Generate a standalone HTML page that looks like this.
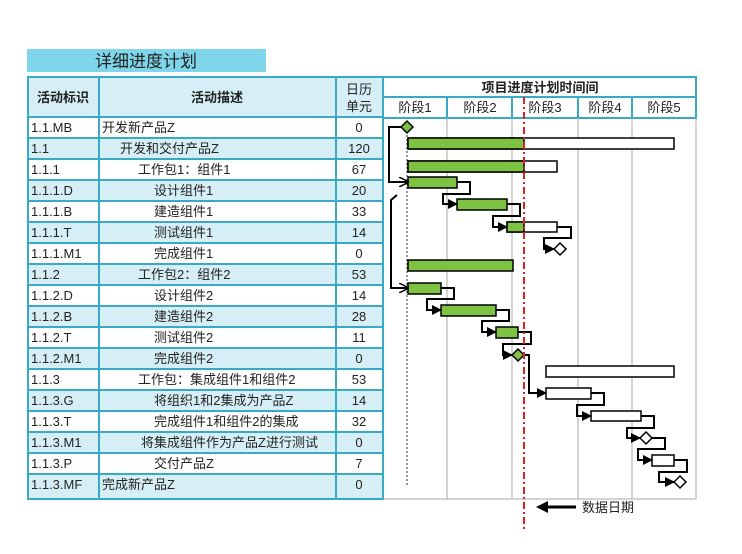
<!DOCTYPE html>
<html><head><meta charset="utf-8"><style>
body{margin:0;background:#fff}
svg text{font-family:"Liberation Sans","Noto Sans CJK SC",sans-serif;fill:#222}
</style></head><body>
<svg width="742" height="549" xmlns="http://www.w3.org/2000/svg">
<defs>
<marker id="a" markerWidth="10" markerHeight="10" refX="9" refY="5" orient="auto" markerUnits="userSpaceOnUse"><path d="M0,0 L10,5 L0,10 z" fill="#000"/></marker>
<marker id="o" markerWidth="10" markerHeight="10" refX="9" refY="5" orient="auto" markerUnits="userSpaceOnUse"><path d="M0,0 L10,5 L0,10" fill="none" stroke="#000" stroke-width="1.5"/></marker>
</defs>
<rect x="27" y="49" width="239" height="23" fill="#7fd6ea"/>
<text x="146" y="67" font-size="17" text-anchor="middle">详细进度计划</text>
<!-- table rows -->
<g>
<rect x="28" y="77" width="355" height="422" fill="#d6eff6"/>
<rect x="28" y="117" width="355" height="21" fill="#fff"/>
<rect x="28" y="159" width="355" height="21" fill="#fff"/>
<rect x="28" y="201" width="355" height="21" fill="#fff"/>
<rect x="28" y="243" width="355" height="21" fill="#fff"/>
<rect x="28" y="285" width="355" height="21" fill="#fff"/>
<rect x="28" y="327" width="355" height="21" fill="#fff"/>
<rect x="28" y="369" width="355" height="21" fill="#fff"/>
<rect x="28" y="411" width="355" height="21" fill="#fff"/>
<rect x="28" y="453" width="355" height="21" fill="#fff"/>
</g>
<g stroke="#3aa9c4" stroke-width="2" fill="none">
<rect x="28" y="77" width="355" height="422"/>
<line x1="99" y1="77" x2="99" y2="499"/><line x1="336" y1="77" x2="336" y2="499"/>
<line x1="28" y1="117" x2="383" y2="117"/><line x1="28" y1="138" x2="383" y2="138"/><line x1="28" y1="159" x2="383" y2="159"/><line x1="28" y1="180" x2="383" y2="180"/><line x1="28" y1="201" x2="383" y2="201"/><line x1="28" y1="222" x2="383" y2="222"/><line x1="28" y1="243" x2="383" y2="243"/><line x1="28" y1="264" x2="383" y2="264"/><line x1="28" y1="285" x2="383" y2="285"/><line x1="28" y1="306" x2="383" y2="306"/><line x1="28" y1="327" x2="383" y2="327"/><line x1="28" y1="348" x2="383" y2="348"/><line x1="28" y1="369" x2="383" y2="369"/><line x1="28" y1="390" x2="383" y2="390"/><line x1="28" y1="411" x2="383" y2="411"/><line x1="28" y1="432" x2="383" y2="432"/><line x1="28" y1="453" x2="383" y2="453"/><line x1="28" y1="474" x2="383" y2="474"/>
</g>
<g font-size="13">
<text x="63" y="102" text-anchor="middle" font-weight="bold">活动标识</text>
<text x="217" y="102" text-anchor="middle" font-weight="bold">活动描述</text>
<text x="359" y="94" text-anchor="middle">日历</text><text x="359" y="111" text-anchor="middle">单元</text>
<text x="31" y="132">1.1.MB</text><text x="31" y="153">1.1</text><text x="31" y="174">1.1.1</text><text x="31" y="195">1.1.1.D</text><text x="31" y="216">1.1.1.B</text><text x="31" y="237">1.1.1.T</text><text x="31" y="258">1.1.1.M1</text><text x="31" y="279">1.1.2</text><text x="31" y="300">1.1.2.D</text><text x="31" y="321">1.1.2.B</text><text x="31" y="342">1.1.2.T</text><text x="31" y="363">1.1.2.M1</text><text x="31" y="384">1.1.3</text><text x="31" y="405">1.1.3.G</text><text x="31" y="426">1.1.3.T</text><text x="31" y="447">1.1.3.M1</text><text x="31" y="468">1.1.3.P</text><text x="31" y="489">1.1.3.MF</text>
<text x="102" y="132">开发新产品Z</text><text x="120" y="153">开发和交付产品Z</text><text x="138" y="174">工作包1：组件1</text><text x="154" y="195">设计组件1</text><text x="154" y="216">建造组件1</text><text x="154" y="237">测试组件1</text><text x="154" y="258">完成组件1</text><text x="138" y="279">工作包2：组件2</text><text x="154" y="300">设计组件2</text><text x="154" y="321">建造组件2</text><text x="154" y="342">测试组件2</text><text x="154" y="363">完成组件2</text><text x="138" y="384">工作包：集成组件1和组件2</text><text x="154" y="405">将组织1和2集成为产品Z</text><text x="154" y="426">完成组件1和组件2的集成</text><text x="141" y="447">将集成组件作为产品Z进行测试</text><text x="154" y="468">交付产品Z</text><text x="102" y="489">完成新产品Z</text>
<g text-anchor="middle"><text x="359" y="132">0</text><text x="359" y="153">120</text><text x="359" y="174">67</text><text x="359" y="195">20</text><text x="359" y="216">33</text><text x="359" y="237">14</text><text x="359" y="258">0</text><text x="359" y="279">53</text><text x="359" y="300">14</text><text x="359" y="321">28</text><text x="359" y="342">11</text><text x="359" y="363">0</text><text x="359" y="384">53</text><text x="359" y="405">14</text><text x="359" y="426">32</text><text x="359" y="447">0</text><text x="359" y="468">7</text><text x="359" y="489">0</text></g>
</g>
<!-- gantt -->
<g stroke="#3aa9c4" stroke-width="2" fill="none">
<rect x="383" y="77" width="313" height="41"/><line x1="383" y1="97" x2="696" y2="97"/>
<line x1="447" y1="97" x2="447" y2="118"/><line x1="512" y1="97" x2="512" y2="118"/><line x1="578" y1="97" x2="578" y2="118"/><line x1="632" y1="97" x2="632" y2="118"/>
</g>
<g stroke="#aaa" stroke-width="1" fill="none">
<line x1="447" y1="118" x2="447" y2="499"/><line x1="512" y1="118" x2="512" y2="499"/><line x1="578" y1="118" x2="578" y2="499"/><line x1="632" y1="118" x2="632" y2="499"/><line x1="696" y1="118" x2="696" y2="499"/>
<line x1="383" y1="499" x2="696" y2="499"/>
</g>
<text x="540" y="92" font-size="13" text-anchor="middle" font-weight="bold">项目进度计划时间间</text>
<g font-size="13" text-anchor="middle" fill="#333"><text x="415" y="112">阶段1</text><text x="480" y="112">阶段2</text><text x="545" y="112">阶段3</text><text x="605" y="112">阶段4</text><text x="664" y="112">阶段5</text></g>
<line x1="407" y1="127" x2="407" y2="487" stroke="#333" stroke-dasharray="2,2"/>
<g stroke="#000" stroke-width="1.5" fill="#fff">
<rect x="408" y="138" width="266" height="11"/><rect x="408" y="138" width="116" height="11" fill="#7dc242"/>
<rect x="408" y="161" width="149" height="11"/><rect x="408" y="161" width="116" height="11" fill="#7dc242"/>
<rect x="408" y="177" width="49" height="11" fill="#7dc242"/>
<rect x="457" y="199" width="50" height="11" fill="#7dc242"/>
<rect x="507" y="222" width="50" height="10"/><rect x="507" y="222" width="17" height="10" fill="#7dc242"/>
<rect x="408" y="260" width="105" height="11" fill="#7dc242"/>
<rect x="408" y="283" width="33" height="11" fill="#7dc242"/>
<rect x="441" y="305" width="55" height="11" fill="#7dc242"/>
<rect x="496" y="327" width="22" height="11" fill="#7dc242"/>
<rect x="546" y="366" width="128" height="11"/>
<rect x="546" y="388" width="45" height="11"/>
<rect x="591" y="411" width="50" height="10"/>
<rect x="652" y="455" width="22" height="11"/>
<path d="M407,121 L413,127 L407,133 L401,127 z" fill="#7dc242"/>
<path d="M560,243 L566,249 L560,255 L554,249 z"/>
<path d="M518,349 L524,355 L518,361 L512,355 z" fill="#7dc242"/>
<path d="M646,432 L652,438 L646,444 L640,438 z"/>
<path d="M680,476 L686,482 L680,488 L674,482 z"/>
</g>
<g stroke="#000" stroke-width="2" fill="none" marker-end="url(#a)">
<polyline points="457,182 470,182 470,194 443,194 443,204 457,204"/>
<polyline points="507,204 520,204 520,216 493,216 493,227 507,227"/>
<polyline points="557,227 571,227 571,238 544,238 544,249 554,249"/>
<polyline points="441,288 454,288 454,299 427,299 427,310 441,310"/>
<polyline points="496,310 509,310 509,321 482,321 482,332 496,332"/>
<polyline points="518,332 531,332 531,344 503,344 503,355 512,355"/>
<polyline points="524,355 529,355 529,393 546,393"/>
<polyline points="591,393 604,393 604,405 577,405 577,416 591,416"/>
<polyline points="641,416 654,416 654,428 627,428 627,438 640,438"/>
<polyline points="652,438 665,438 665,449 638,449 638,460 652,460"/>
<polyline points="674,460 687,460 687,472 659,472 659,482 674,482"/>
</g>
<g stroke="#000" stroke-width="2" fill="none" marker-end="url(#o)">
<polyline points="401,127 389,127 389,182 408,182"/>
<polyline points="397,195 391,200 391,288 408,288"/>
</g>
<line x1="524" y1="97" x2="524" y2="530" stroke="#e02020" stroke-width="2" stroke-dasharray="7,3,2,3"/>
<line x1="576" y1="507" x2="545" y2="507" stroke="#000" stroke-width="3"/>
<path d="M536,507 L548,501 L548,513 z" fill="#000"/>
<text x="582" y="512" font-size="13" fill="#333">数据日期</text>
</svg>
</body></html>
